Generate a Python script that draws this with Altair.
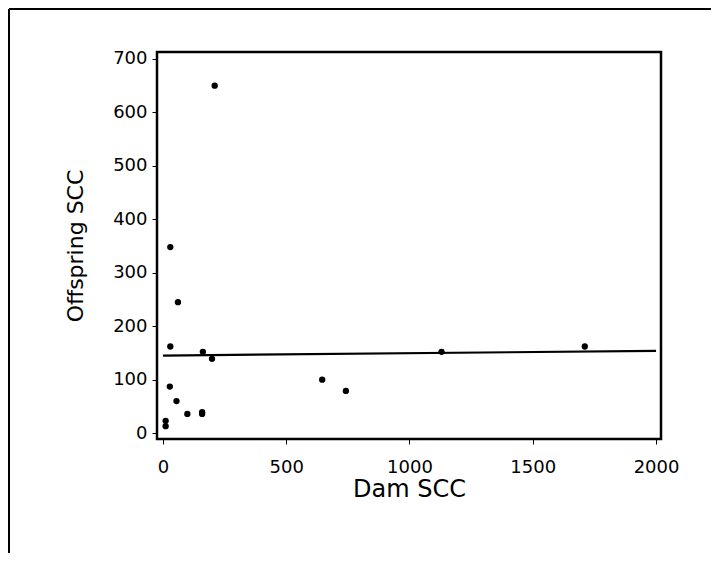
import altair as alt
import pandas as pd

# Scatter data: Dam SCC vs Offspring SCC
dam_scc = [11, 11, 28, 30, 30, 55, 61, 99, 159, 159, 162, 199, 210, 646, 742, 1130, 1711]
offspring_scc = [23, 13, 87, 162, 348, 60, 245, 36, 39, 36, 152, 139, 650, 100, 79, 152, 162]

# Fitted line end points
line_x = [0, 2000]
line_y = [145, 154]

x_ticks = [0, 500, 1000, 1500, 2000]
y_ticks = [0, 100, 200, 300, 400, 500, 600, 700]

pts = pd.DataFrame({"dam": dam_scc, "off": offspring_scc})
fit = pd.DataFrame({"dam": line_x, "off": line_y})
one = pd.DataFrame({"k": [0]})

FONT = "DejaVu Sans"

xs = alt.Scale(domain=[-24, 2020], nice=False, zero=False)
ys = alt.Scale(domain=[-11, 713], nice=False, zero=False)

xax = alt.Axis(values=x_ticks, format="d", title="Dam SCC", grid=False, domain=False,
               tickSize=5, tickColor="black", tickWidth=1,
               labelFontSize=18, labelFont=FONT, labelColor="black", labelPadding=14,
               titleFontSize=24, titleFont=FONT, titleFontWeight="normal", titleColor="black",
               titlePadding=1)
yax = alt.Axis(values=y_ticks, format="d", title="Offspring SCC", grid=False, domain=False,
               tickSize=5, tickColor="black", tickWidth=1,
               labelFontSize=18, labelFont=FONT, labelColor="black", labelPadding=5,
               titleFontSize=22, titleFont=FONT, titleFontWeight="normal", titleColor="black",
               titlePadding=25)

points = alt.Chart(pts).mark_circle(color="black", size=40, opacity=1).encode(
    x=alt.X("dam:Q", scale=xs, axis=xax),
    y=alt.Y("off:Q", scale=ys, axis=yax),
)

line = alt.Chart(fit).mark_line(color="black", strokeWidth=2.2).encode(
    x=alt.X("dam:Q", scale=xs),
    y=alt.Y("off:Q", scale=ys),
)

top_border = alt.Chart(one).mark_rule(color="black", strokeWidth=2).encode(
    x=alt.value(-148), x2=alt.value(700), y=alt.value(-43)
)
left_border = alt.Chart(one).mark_rule(color="black", strokeWidth=2).encode(
    x=alt.value(-148), y=alt.value(-43), y2=alt.value(700)
)

chart = alt.layer(points, line, top_border, left_border).properties(
    width=504, height=387,
    autosize=alt.AutoSizeParams(type="none"),
    padding={"left": 149, "top": 44, "right": 50, "bottom": 114},
    background="white",
).configure_view(stroke="black", strokeWidth=2.5)

chart.save("out.html", embed_options={"renderer": "svg", "actions": False})
